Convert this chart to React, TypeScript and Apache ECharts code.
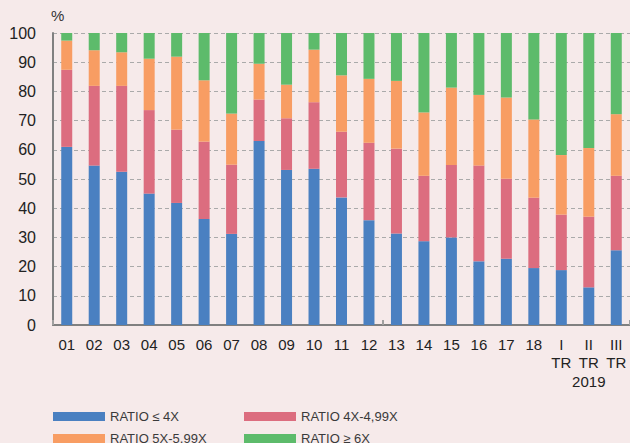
import React, { useEffect, useRef } from "react";
import * as echarts from "echarts";

const categories = ["01","02","03","04","05","06","07","08","09","10","11","12","13","14","15","16","17","18","I\nTR","II\nTR\n2019","III\nTR"];
const ratioLe4 = [61.0,54.6,52.5,45.0,41.8,36.3,31.2,63.0,53.1,53.5,43.7,35.9,31.3,28.7,30.0,21.8,22.7,19.5,18.8,12.9,25.6];
const ratio4to5 = [26.4,27.3,29.4,28.6,25.1,26.5,23.7,14.2,17.7,22.8,22.5,26.5,29.1,22.4,24.8,32.8,27.4,24.1,19.0,24.2,25.5];
const ratio5to6 = [10.0,12.2,11.5,17.6,25.0,21.0,17.5,12.3,11.5,18.0,19.3,21.9,23.2,21.7,26.5,24.2,27.8,26.8,20.4,23.5,21.1];
const ratioGe6 = [2.6,5.9,6.6,8.8,8.1,16.2,27.6,10.5,17.7,5.7,14.5,15.7,16.4,27.2,18.7,21.2,22.1,29.6,41.8,39.4,27.8];
const seriesNames = ["RATIO \u2264 4X", "RATIO 4X-4,99X", "RATIO 5X-5,99X", "RATIO \u2265 6X"];
const colors = ["#4A80C1", "#DC6D7F", "#F89D63", "#5DBB6B"];

const font = "'Liberation Sans', Arial, sans-serif";

export default function App() {
  const ref = useRef<HTMLDivElement>(null);
  useEffect(() => {
    if (!ref.current) return;
    const chart = echarts.init(ref.current, null, { renderer: "svg" });
    const data = [ratioLe4, ratio4to5, ratio5to6, ratioGe6];
    const legendCommon = {
      itemWidth: 52, itemHeight: 9, itemTextGap: 7, padding: 0,
      icon: "rect",
      textStyle: { fontFamily: font, fontSize: 13, color: "#3a3a3a" },
    };
    const legendLefts = [53, 244, 53, 244];
    const legendTops = [410, 410, 432, 432];
    chart.setOption({
      animation: false,
      backgroundColor: "#F6EAEA",
      color: colors,
      grid: { left: 53, right: -2, top: 33, bottom: 118, containLabel: false },
      legend: seriesNames.map((n, k) => ({ ...legendCommon, data: [n], left: legendLefts[k], top: legendTops[k] })),
      xAxis: {
        type: "category",
        data: categories,
        axisLine: { lineStyle: { color: "#808080", width: 2 } },
        axisTick: {
          show: true, inside: true, length: 5,
          interval: (i: number) => i === 0 || i === 12,
          lineStyle: { color: "#a0a0a0", width: 2 },
        },
        axisLabel: { interval: 0, fontFamily: font, fontSize: 15, color: "#222", margin: 10, lineHeight: 18.5 },
      },
      yAxis: {
        type: "value",
        min: 0, max: 100, interval: 10,
        name: "%",
        nameLocation: "end",
        nameGap: 10,
        nameTextStyle: { fontFamily: font, fontSize: 15, color: "#333", align: "left", padding: [0, 0, 0, -2] },
        axisLine: { show: true, lineStyle: { color: "#808080", width: 2 } },
        axisTick: { show: false },
        axisLabel: { fontFamily: font, fontSize: 16, color: "#222", margin: 17 },
        splitLine: { lineStyle: { color: "#aaaaaa", type: [4, 3], width: 1 } },
      },
      series: seriesNames.map((name, k) => ({
        name,
        type: "bar",
        stack: "total",
        barWidth: 11,
        data: data[k],
        itemStyle: { color: colors[k] },
      })),
    });
    return () => chart.dispose();
  }, []);
  return <div ref={ref} style={{ position: "fixed", left: 0, top: 0, width: 630, height: 443 }} />;
}
